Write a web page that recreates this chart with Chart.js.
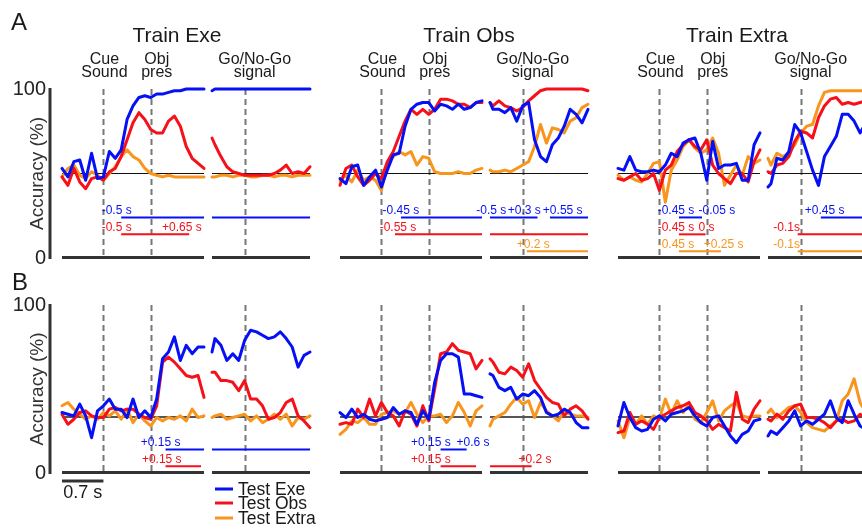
<!DOCTYPE html>
<html><head><meta charset="utf-8">
<script src="https://cdn.jsdelivr.net/npm/chart.js@4"></script>
<style>
html,body{margin:0;padding:0;background:#fff;overflow:hidden;width:862px;height:529px}
#wrap{position:relative;width:862px;height:529px;overflow:hidden;background:#fff}
#wrap canvas{position:absolute;left:0;top:0}
</style></head><body><div id="wrap"></div>
<script>
// ---------- time grids (s) ----------
// left epoch: aligned to object presentation (cue sound at -0.8 s); right epoch: aligned to Go/No-Go signal
const tCue = [-1.5,-1.4,-1.3,-1.2,-1.1,-1.0,-0.9,-0.8,-0.7,-0.6,-0.5,-0.4,-0.3,-0.2,-0.1,0,0.1,0.2,0.3,0.4,0.5,0.6,0.7,0.8,0.9];
const tGo  = [-0.55,-0.5,-0.4,-0.3,-0.2,-0.1,0,0.1,0.2,0.3,0.4,0.5,0.6,0.7,0.8,0.9,1.0,1.1];
const cueSoundTime = -0.8, objPresTime = 0, goSignalTime = 0;
const chanceA = 50, chanceB = 33.3;
const yTicks = [0, 100];

// ---------- A: Train Exe ----------
const A1L_exe   = [53,48,57,58,46,62,47,48,63,59,64,82,90,95,96,95,97,97,98,99,99,100,100,100,100];
const A1L_obs   = [48,43,53,45,41,47,48,46,51,53,60,70,80,86,82,76,74,74,81,84,78,66,59,56,53];
const A1L_extra = [48,53,55,49,47,51,49,46,50,54,60,64,60,58,53,50,49,48,49,48,48,48,48,48,48];
const A1R_exe   = [99,100,100,100,100,100,100,100,100,100,100,100,100,100,100,100,100,100];
const A1R_obs   = [71,67,60,54,51,50,49,49,49,49,49,50,52,55,50,51,50,54];
const A1R_extra = [48,48,49,49,48,49,49,48,48,49,49,48,49,49,48,49,49,49];
// ---------- A: Train Obs ----------
const A2L_exe   = [47,44,54,55,43,48,52,42,52,61,62,78,88,91,92,92,87,91,90,88,91,88,89,92,93];
const A2L_obs   = [43,53,55,48,43,46,50,47,57,63,72,81,88,85,88,85,88,94,94,93,91,91,89,92,92];
const A2L_extra = [46,49,45,52,46,48,46,40,56,60,63,61,63,55,60,59,51,50,50,50,51,50,50,52,53];
const A2R_exe   = [92,88,88,86,89,81,90,92,70,60,57,67,71,78,88,85,80,88];
const A2R_obs   = [92,90,93,90,89,87,89,93,96,99,100,100,100,100,100,100,100,99];
const A2R_extra = [52,51,51,52,51,53,55,57,66,79,68,77,76,74,81,83,89,91];
// ---------- A: Train Extra ----------
const A3L_exe   = [53,52,60,52,51,51,52,51,55,62,60,68,70,71,62,46,69,53,55,55,56,46,46,67,74];
const A3L_obs   = [47,46,48,50,46,47,50,40,52,55,63,67,70,66,64,70,55,50,47,44,50,50,45,57,64];
const A3L_extra = [49,46,48,46,45,50,56,57,33,52,58,66,70,65,62,64,71,62,43,49,55,49,60,56,58];
const A3R_exe   = [42,44,59,58,63,79,74,63,52,43,60,66,72,85,85,81,74,80];
const A3R_obs   = [51,50,55,56,60,69,75,74,71,83,90,94,95,91,92,91,92,93];
const A3R_extra = [59,55,62,60,62,67,74,78,79,90,98,99,99,99,99,99,99,99];
// ---------- B: Train Exe ----------
const B1L_exe   = [36,35,34,41,34,21,37,40,44,38,38,33,44,33,37,33,44,68,72,81,67,76,71,75,75];
const B1L_obs   = [35,29,32,36,37,34,33,33,38,39,37,38,38,35,33,32,40,66,69,66,62,58,57,58,45];
const B1L_extra = [40,42,38,35,32,34,32,36,34,37,32,38,30,35,31,28,33,31,33,32,34,31,38,33,34];
const B1R_exe   = [72,80,76,67,71,67,79,85,84,82,80,81,84,80,75,63,70,72];
const B1R_obs   = [60,60,55,55,54,49,55,44,44,40,32,33,36,42,44,34,31,27];
const B1R_extra = [33,34,35,32,33,34,35,31,34,30,32,35,32,35,28,33,32,34];
// ---------- B: Train Obs ----------
const B2L_exe   = [36,33,38,33,35,32,31,32,33,39,35,37,36,29,37,32,54,67,71,71,69,47,47,46,45];
const B2L_obs   = [29,30,29,38,33,44,34,42,36,34,28,37,35,28,40,31,50,71,72,77,73,72,71,62,67];
const B2L_extra = [23,26,31,30,33,29,29,35,36,37,35,36,42,35,30,34,34,35,30,34,42,36,28,37,40];
const B2R_exe   = [59,58,51,49,51,44,47,46,49,45,36,34,35,38,36,30,27,27];
const B2R_obs   = [68,66,60,59,63,61,57,65,55,50,45,42,41,34,38,40,37,32];
const B2R_extra = [28,32,34,36,41,45,41,43,33,42,37,34,31,37,35,34,34,33];
// ---------- B: Train Extra ----------
const B3L_exe   = [28,42,33,27,25,26,32,34,31,35,36,37,39,34,30,28,33,34,28,22,18,23,25,31,32];
const B3L_obs   = [24,25,36,29,31,29,26,33,35,37,39,40,42,36,34,31,26,29,27,25,48,32,30,38,43];
const B3L_extra = [31,21,33,29,34,29,34,32,44,35,43,36,41,32,30,36,43,31,37,40,42,34,33,34,34];
const B3R_exe   = [22,25,23,27,31,37,28,31,29,32,35,43,33,30,43,35,28,26];
const B3R_obs   = [32,31,35,32,37,40,41,33,33,32,30,27,31,32,30,31,35,33];
const B3R_extra = [36,38,33,36,39,40,36,30,27,26,25,28,31,43,47,56,42,36];

// ---------- significance intervals (s) ----------
const sigA1L = {exe:[[-0.5,0.9]], obs:[[-0.5,0.65]]};
const sigA1R = {exe:[[-0.55,1.1]]};
const sigA2L = {exe:[[-0.47,0.9]], obs:[[-0.57,0.9]]};
const sigA2R = {exe:[[-0.55,0.25],[0.46,1.1]], obs:[[-0.55,1.1]], extra:[[0.07,1.1]]};
const sigA3L = {exe:[[-0.47,-0.08]], obs:[[-0.47,-0.02]], extra:[[-0.47,0.24]]};
const sigA3R = {exe:[[0.34,1.1]], obs:[[-0.05,1.1]], extra:[[-0.05,1.1]]};
const sigB1L = {exe:[[0.25,0.9]], obs:[[0.25,0.85]]};
const sigB1R = {exe:[[-0.55,1.1]]};
const sigB2L = {exe:[[0.2,0.64]], obs:[[0.2,0.8]]};
const sigB2R = {obs:[[-0.55,0.15]]};
const sigLevelA = {exe:24, obs:14, extra:4};
const sigLevelB = {exe:14, obs:4};

// ---------- significance labels (text + anchor time) ----------
const labA1L = [['exe',-0.83,'-0.5 s'],['obs',-0.83,'-0.5 s'],['obs',0.19,'+0.65 s']];
const labA2L = [['exe',-0.78,'-0.45 s'],['obs',-0.83,'-0.55 s']];
const labA2R = [['exe',-0.78,'-0.5 s'],['exe',-0.25,'+0.3 s'],['exe',0.34,'+0.55 s'],['extra',-0.10,'+0.2 s']];
const labA3L = [['exe',-0.83,'-0.45 s'],['exe',-0.14,'-0.05 s'],['obs',-0.83,'-0.45 s'],['obs',-0.14,'0 s'],['extra',-0.83,'-0.45 s'],['extra',-0.05,'+0.25 s']];
const labA3R = [['exe',0.07,'+0.45 s'],['obs',-0.46,'-0.1s'],['extra',-0.46,'-0.1s']];
const labB1L = [['exe',-0.17,'+0.15 s'],['obs',-0.15,'+0.15 s']];
const labB2L = [['exe',-0.3,'+0.15 s'],['exe',0.47,'+0.6 s'],['obs',-0.3,'+0.15 s']];
const labB2R = [['obs',-0.07,'+0.2 s']];

const titles = ['Train Exe','Train Obs','Train Extra'];
const legendNames = ['Test Exe','Test Obs','Test Extra'];

// ---------- styling / layout ----------
const FONT = "'Liberation Sans', Arial, Helvetica, sans-serif";
const COLORS = {exe:'#0510f5', obs:'#f5101a', extra:'#f8951c'};
const KEYS = ['exe','obs','extra'];
const CW = 880, CH = 529;
const COLX = [62, 340, 618];
const wrap = document.getElementById('wrap');

const panels = [
  {row:'A',col:0,side:'L',s:[A1L_exe,A1L_obs,A1L_extra],sig:sigA1L,lab:labA1L},
  {row:'A',col:0,side:'R',s:[A1R_exe,A1R_obs,A1R_extra],sig:sigA1R,lab:[]},
  {row:'A',col:1,side:'L',s:[A2L_exe,A2L_obs,A2L_extra],sig:sigA2L,lab:labA2L},
  {row:'A',col:1,side:'R',s:[A2R_exe,A2R_obs,A2R_extra],sig:sigA2R,lab:labA2R},
  {row:'A',col:2,side:'L',s:[A3L_exe,A3L_obs,A3L_extra],sig:sigA3L,lab:labA3L},
  {row:'A',col:2,side:'R',s:[A3R_exe,A3R_obs,A3R_extra],sig:sigA3R,lab:labA3R},
  {row:'B',col:0,side:'L',s:[B1L_exe,B1L_obs,B1L_extra],sig:sigB1L,lab:labB1L},
  {row:'B',col:0,side:'R',s:[B1R_exe,B1R_obs,B1R_extra],sig:sigB1R,lab:[]},
  {row:'B',col:1,side:'L',s:[B2L_exe,B2L_obs,B2L_extra],sig:sigB2L,lab:labB2L},
  {row:'B',col:1,side:'R',s:[B2R_exe,B2R_obs,B2R_extra],sig:sigB2R,lab:labB2R},
  {row:'B',col:2,side:'L',s:[B3L_exe,B3L_obs,B3L_extra],sig:{},lab:[]},
  {row:'B',col:2,side:'R',s:[B3R_exe,B3R_obs,B3R_extra],sig:{},lab:[]},
];

function drawGlobal(ctx){
  ctx.save();
  ctx.fillStyle = '#1a1a1a';
  ctx.textBaseline = 'alphabetic';
  ctx.font = '24px ' + FONT; ctx.textAlign = 'left';
  ctx.fillText('A', 11, 30);
  ctx.fillText('B', 12, 290);
  ctx.font = '21px ' + FONT; ctx.textAlign = 'center';
  [177, 469, 737].forEach((x,i)=>ctx.fillText(titles[i], x, 42));
  // legend
  const ly = [489, 503, 518];
  KEYS.forEach((k,i)=>{
    ctx.strokeStyle = COLORS[k]; ctx.lineWidth = 3;
    ctx.beginPath(); ctx.moveTo(215, ly[i]); ctx.lineTo(233, ly[i]); ctx.stroke();
    ctx.fillStyle = '#1a1a1a'; ctx.font = '17.5px ' + FONT; ctx.textAlign = 'left'; ctx.textBaseline = 'middle';
    ctx.fillText(legendNames[i], 238, ly[i] + 1);
  });
  ctx.restore();
}

panels.forEach((p, idx) => {
  const canvas = document.createElement('canvas');
  canvas.width = CW; canvas.height = CH;
  canvas.style.width = CW + 'px'; canvas.style.height = CH + 'px';
  wrap.appendChild(canvas);
  const isA = p.row === 'A';
  const top = isA ? 89 : 305, bottom = isA ? 258 : 473;
  const isL = p.side === 'L';
  const x0 = COLX[p.col] + (isL ? 0 : 150);
  const w = isL ? 142 : 98;
  const xs = isL ? tCue : tGo;
  const xmin = isL ? -1.5 : -0.55, xmax = isL ? 0.9 : 1.1;
  const withY = p.col === 0 && isL;
  const chance = isA ? chanceA : chanceB;
  const levels = isA ? sigLevelA : sigLevelB;
  const events = isL ? [cueSoundTime, objPresTime] : [goSignalTime];

  const datasets = [];
  p.s.forEach((ys, i) => {
    datasets.push({data: xs.map((x, j) => ({x, y: ys[j]})), borderColor: COLORS[KEYS[i]],
      borderWidth: 3, pointRadius: 0, tension: 0, fill: false, order: i, clip: 3,
      borderJoinStyle: 'round', borderCapStyle: 'round'});
  });
  Object.keys(p.sig).forEach(k => {
    p.sig[k].forEach(iv => {
      datasets.push({data: [{x: iv[0], y: levels[k]}, {x: iv[1], y: levels[k]}], borderColor: COLORS[k],
        borderWidth: 2, pointRadius: 0, fill: false, order: 5, clip: 3});
    });
  });
  datasets.push({data: [{x: xmin, y: chance}, {x: xmax, y: chance}], borderColor: isA ? '#111' : '#555',
    borderWidth: isA ? 1.2 : 2, pointRadius: 0, fill: false, order: 10});

  const deco = {
    id: 'deco' + idx,
    beforeDatasetsDraw(chart) {
      const {ctx, chartArea: a, scales: {x}} = chart;
      ctx.save();
      ctx.strokeStyle = '#777'; ctx.lineWidth = 2; ctx.setLineDash([6, 4]);
      events.forEach(t => {
        const px = Math.round(x.getPixelForValue(t)) + 0.5;
        ctx.beginPath(); ctx.moveTo(px, a.top); ctx.lineTo(px, a.bottom); ctx.stroke();
      });
      ctx.setLineDash([]);
      ctx.strokeStyle = '#333'; ctx.lineWidth = 3;
      ctx.beginPath(); ctx.moveTo(a.left, a.bottom - 0.5); ctx.lineTo(a.right, a.bottom - 0.5); ctx.stroke();
      if (withY) {
        ctx.beginPath(); ctx.moveTo(a.left - 12, a.top - 1); ctx.lineTo(a.left - 12, a.bottom + 1); ctx.stroke();
      }
      ctx.restore();
    },
    afterDraw(chart) {
      const {ctx, scales: {x, y}} = chart;
      ctx.save();
      ctx.font = '12px ' + FONT; ctx.textAlign = 'left'; ctx.textBaseline = 'middle';
      p.lab.forEach(([k, t, txt]) => {
        ctx.fillStyle = COLORS[k];
        ctx.fillText(txt, x.getPixelForValue(t), y.getPixelForValue(levels[k]) - 6.5);
      });
      if (isA) {
        ctx.fillStyle = '#1a1a1a'; ctx.font = '16px ' + FONT; ctx.textAlign = 'center'; ctx.textBaseline = 'alphabetic';
        if (isL) {
          const cx = x.getPixelForValue(cueSoundTime) + 1, ox = x.getPixelForValue(objPresTime) + 6;
          ctx.fillText('Cue', cx, 64); ctx.fillText('Sound', cx, 77);
          ctx.fillText('Obj', ox, 64); ctx.fillText('pres', ox, 77);
        } else {
          const gx = x.getPixelForValue(goSignalTime) + 10;
          ctx.fillText('Go/No-Go', gx, 64); ctx.fillText('signal', gx, 77);
        }
      }
      if (!isA && withY) {
        // 0.7 s scale bar
        const xa = x.getPixelForValue(-1.5), xb = x.getPixelForValue(-0.8);
        ctx.strokeStyle = '#333'; ctx.lineWidth = 3;
        ctx.beginPath(); ctx.moveTo(xa, 481); ctx.lineTo(xb, 481); ctx.stroke();
        ctx.fillStyle = '#1a1a1a'; ctx.font = '18px ' + FONT; ctx.textAlign = 'center'; ctx.textBaseline = 'alphabetic';
        ctx.fillText('0.7 s', (xa + xb) / 2, 498);
      }
      ctx.restore();
      if (idx === panels.length - 1) drawGlobal(ctx);
    }
  };

  const yScale = {
    type: 'linear', min: 0, max: 100, display: withY,
    grid: {display: false, drawTicks: false}, border: {display: false},
    ticks: {padding: 16, color: '#222', font: {size: 20, family: FONT}},
    title: {display: true, text: 'Accuracy (%)', color: '#333', font: {size: 19, family: FONT}, padding: {top: 26, bottom: 0}}
  };
  if (withY) {
    yScale.afterFit = s => { s.width = x0; };
    yScale.afterBuildTicks = s => { s.ticks = yTicks.map(v => ({value: v})); };
  }

  new Chart(canvas, {
    type: 'line',
    data: {datasets},
    options: {
      responsive: false, animation: false, devicePixelRatio: 1,
      layout: {padding: {left: withY ? 0 : x0, right: CW - (x0 + w), top: top, bottom: CH - bottom}},
      plugins: {legend: {display: false}, tooltip: {enabled: false}},
      scales: {
        x: {type: 'linear', min: xmin, max: xmax, display: false},
        y: yScale
      }
    },
    plugins: [deco]
  });
});
</script>
</body></html>
